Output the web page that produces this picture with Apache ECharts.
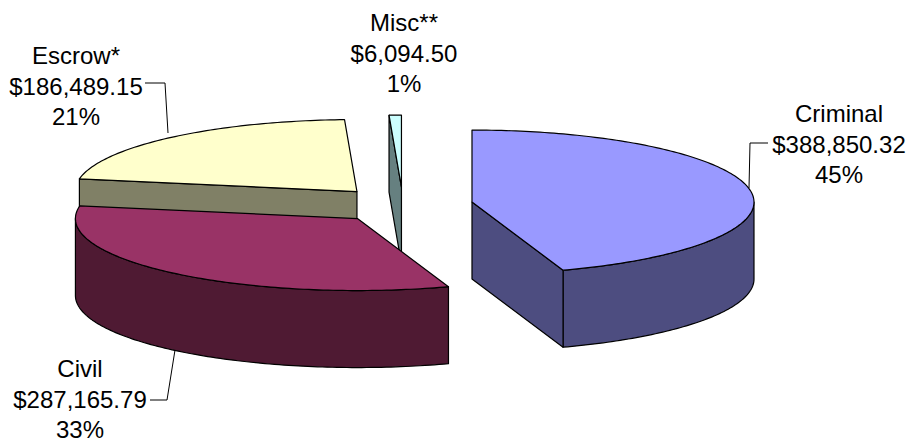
<!DOCTYPE html>
<html><head><meta charset="utf-8">
<script src="https://cdn.jsdelivr.net/npm/echarts@6/dist/echarts.min.js"></script>
<style>html,body{margin:0;padding:0;background:#fff}#c{width:909px;height:443px}</style>
</head><body><div id="c"></div>
<script>
// ---- data ----
const categories = ['Criminal', 'Civil', 'Escrow*', 'Misc**'];
const amounts = [388850.32, 287165.79, 186489.15, 6094.50];

// ---- styles / layout ----
const topColors = ['#9999FF', '#993366', '#FFFFCC', '#CCFFFF'];
const sideColors = ['#4D4D80', '#4F1A33', '#808066', '#668080'];
const CX = 403, CY = 205, RX = 282, RY = 72, H = 77, EXPLODE = 0.248;
const labelPos = [[839, 144], [80, 399], [76, 86], [404, 53]];
const leaders = [
  [[768, 143], [750, 143], [749, 188]],
  [[150, 400], [167, 400], [175, 350]],
  [[145, 83], [165, 83], [168, 133]],
  null
];

const total = amounts.reduce((a, b) => a + b, 0);
const slices = [];
let acc = 0;
amounts.forEach((v, i) => {
  const a0 = acc / total * 360;
  acc += v;
  const a1 = acc / total * 360;
  slices.push({ i, a0, a1, mid: (a0 + a1) / 2 });
});
const rad = d => d * Math.PI / 180;
// back-to-front drawing order
const order = slices.slice().sort((p, q) => Math.cos(rad(q.mid)) - Math.cos(rad(p.mid))).map(s => s.i);

function fmtMoney(v) {
  return '$' + v.toLocaleString('en-US', { minimumFractionDigits: 2, maximumFractionDigits: 2 });
}

function renderItem(params, api) {
  const idx = api.value(0);
  const s = slices[idx];
  const ax = CX + EXPLODE * RX * Math.sin(rad(s.mid));
  const ay = CY - EXPLODE * RY * Math.cos(rad(s.mid));
  const P = (t, z) => [ax + RX * Math.sin(rad(t)), ay - RY * Math.cos(rad(t)) + z];
  const arc = (t0, t1, z) => {
    const pts = [];
    const n = Math.max(2, Math.ceil((t1 - t0) / 1));
    for (let k = 0; k <= n; k++) pts.push(P(t0 + (t1 - t0) * k / n, z));
    return pts;
  };
  const stroke = { stroke: '#000', lineWidth: 1.2, lineJoin: 'round' };
  const children = [];
  // outer rim (front half only)
  const r0 = Math.max(s.a0, 90), r1 = Math.min(s.a1, 270);
  if (r1 > r0) {
    const top = arc(r0, r1, 0), bot = arc(r0, r1, H).reverse();
    children.push({ type: 'polygon', shape: { points: top.concat(bot) }, style: Object.assign({ fill: sideColors[idx] }, stroke) });
  }
  // cut faces
  const face = t => ({ type: 'polygon', shape: { points: [[ax, ay], P(t, 0), P(t, H), [ax, ay + H]] }, style: Object.assign({ fill: sideColors[idx] }, stroke) });
  if (Math.sin(rad(s.a0)) < -1e-6) children.push(face(s.a0));
  if (Math.sin(rad(s.a1)) > 1e-6) children.push(face(s.a1));
  // top face
  children.push({ type: 'polygon', shape: { points: [[ax, ay]].concat(arc(s.a0, s.a1, 0)) }, style: Object.assign({ fill: topColors[idx] }, stroke) });
  // leader line
  if (leaders[idx]) {
    children.push({ type: 'polyline', shape: { points: leaders[idx] }, style: { stroke: '#000', lineWidth: 1, fill: null } });
  }
  // label
  const pct = Math.round(amounts[idx] / total * 100) + '%';
  children.push({
    type: 'text',
    style: {
      text: categories[idx] + '\n' + fmtMoney(amounts[idx]) + '\n' + pct,
      x: labelPos[idx][0], y: labelPos[idx][1],
      fill: '#000', fontSize: 24, fontFamily: 'Liberation Sans, Arial, sans-serif',
      align: 'center', verticalAlign: 'middle', lineHeight: 30.5
    }
  });
  return { type: 'group', children };
}

const chart = echarts.init(document.getElementById('c'), null, { renderer: 'svg' });
chart.setOption({
  animation: false,
  backgroundColor: '#fff',
  series: [{
    type: 'custom',
    coordinateSystem: 'none',
    renderItem,
    data: order.map(i => [i, amounts[i]])
  }]
});
</script>
</body></html>
